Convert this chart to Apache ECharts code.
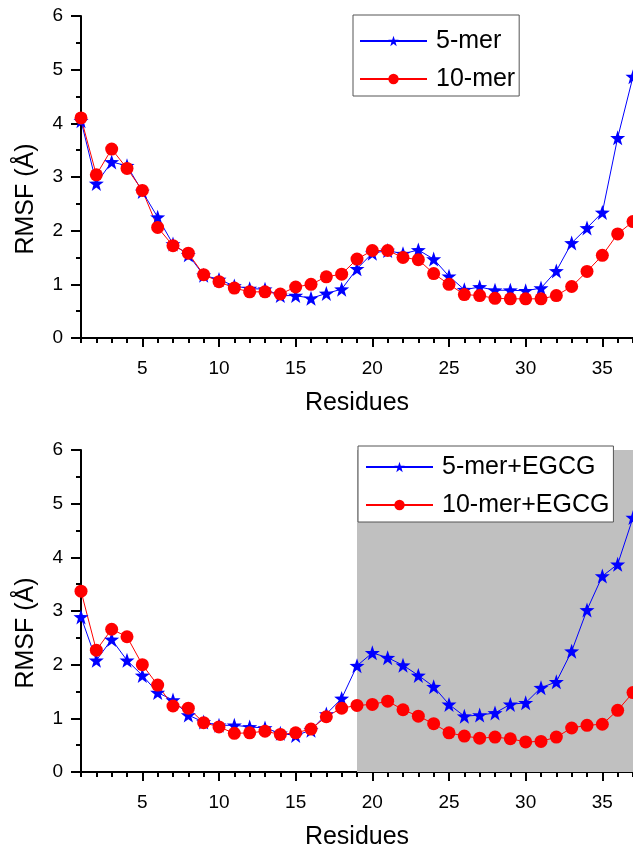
<!DOCTYPE html>
<html lang="en">

<head>
    <meta charset="UTF-8">
    <title>RMSF</title>
    <script src="https://cdn.jsdelivr.net/npm/echarts@6/dist/echarts.min.js"></script>
    <style>
        body { margin: 0; background: #fff; }
        .box { width: 633px; height: 848px; }
    </style>
</head>

<body>
    <div class="box"></div>
</body>
<script>
    // residue numbers (x)
    let residues = [1, 2, 3, 4, 5, 6, 7, 8, 9, 10, 11, 12, 13, 14, 15, 16, 17, 18, 19, 20,
        21, 22, 23, 24, 25, 26, 27, 28, 29, 30, 31, 32, 33, 34, 35, 36, 37]
    let xTickLabels = [5, 10, 15, 20, 25, 30, 35]

    // top panel
    let mer5 = [4.05, 2.88, 3.28, 3.21, 2.73, 2.25, 1.75, 1.55, 1.17, 1.09, 0.97, 0.92, 0.91, 0.79, 0.79, 0.74, 0.83, 0.91, 1.29, 1.58,
        1.63, 1.57, 1.64, 1.47, 1.15, 0.90, 0.95, 0.89, 0.89, 0.88, 0.93, 1.25, 1.77, 2.05, 2.34, 3.73, 4.87]
    let mer10 = [4.10, 3.04, 3.52, 3.16, 2.75, 2.06, 1.72, 1.58, 1.18, 1.05, 0.93, 0.86, 0.86, 0.82, 0.95, 1.00, 1.14, 1.19, 1.47, 1.63,
        1.63, 1.50, 1.46, 1.20, 1.00, 0.81, 0.79, 0.74, 0.73, 0.73, 0.73, 0.79, 0.96, 1.24, 1.54, 1.94, 2.17]

    // bottom panel (with EGCG)
    let mer5Egcg = [2.89, 2.08, 2.47, 2.08, 1.80, 1.48, 1.34, 1.06, 0.93, 0.87, 0.87, 0.84, 0.82, 0.72, 0.68, 0.78, 1.08, 1.37, 1.98, 2.22,
        2.13, 1.99, 1.80, 1.59, 1.26, 1.04, 1.06, 1.10, 1.26, 1.29, 1.57, 1.68, 2.25, 3.02, 3.65, 3.87, 4.74]
    let mer10Egcg = [3.37, 2.27, 2.66, 2.52, 2.00, 1.62, 1.23, 1.19, 0.92, 0.84, 0.72, 0.73, 0.76, 0.70, 0.73, 0.80, 1.03, 1.19, 1.24, 1.26,
        1.32, 1.16, 1.04, 0.90, 0.73, 0.67, 0.63, 0.65, 0.62, 0.56, 0.57, 0.65, 0.82, 0.87, 0.89, 1.15, 1.48]

    // shaded residue range in the bottom panel
    let shadeRange = [19, 37]

    let font = 'Liberation Sans, Arial, sans-serif'

    function pairs(vals) {
        return residues.map((r, i) => [r, vals[i]])
    }

    // main x axis: labels + long ticks at 5,10,...
    function mainX(grid) {
        return {
            type: 'value', gridIndex: grid, min: 1, max: 37, position: 'bottom',
            name: 'Residues', nameLocation: 'middle', nameGap: 53,
            nameTextStyle: { fontSize: 25, color: '#000', fontFamily: font },
            axisLine: { onZero: false, lineStyle: { color: '#000', width: 2 } },
            axisTick: { customValues: xTickLabels, length: 9, lineStyle: { color: '#000', width: 2 } },
            axisLabel: { customValues: xTickLabels, margin: 21, fontSize: 19, color: '#000', fontFamily: font },
            splitLine: { show: false }
        }
    }

    // second x axis only for the short ticks at every residue
    function minorX(grid) {
        return {
            type: 'value', gridIndex: grid, min: 1, max: 37, interval: 1, position: 'bottom',
            axisLine: { show: false, onZero: false },
            axisTick: { length: 5, lineStyle: { color: '#000', width: 2 } },
            axisLabel: { show: false },
            splitLine: { show: false }
        }
    }

    function yAx(grid) {
        return {
            type: 'value', gridIndex: grid, min: 0, max: 6, interval: 1,
            name: 'RMSF (Å)', nameLocation: 'middle', nameGap: 42,
            nameTextStyle: { fontSize: 25, color: '#000', fontFamily: font, padding: [0, 44, 0, 0] },
            axisLine: { lineStyle: { color: '#000', width: 2 } },
            axisTick: { length: 10, lineStyle: { color: '#000', width: 2 } },
            minorTick: { show: true, splitNumber: 2, length: 5, lineStyle: { color: '#000', width: 2 } },
            axisLabel: { margin: 18, fontSize: 19, color: '#000', fontFamily: font },
            splitLine: { show: false }
        }
    }

    function legendBox(grid, names, left, top, padding) {
        return {
            data: names, orient: 'vertical', left: left, top: top,
            padding: padding, itemGap: 10, itemWidth: 67, itemHeight: 13,
            backgroundColor: '#fff', borderColor: '#555', borderWidth: 1,
            textStyle: { fontSize: 25, lineHeight: 28, color: '#000', fontFamily: font, padding: [0, 0, 0, 4] }
        }
    }

    function blue(name, vals, xi, yi) {
        return {
            name: name, type: 'line', xAxisIndex: xi, yAxisIndex: yi, data: pairs(vals),
            symbol: 'path://M0,-10 L2.35,-3.24 L9.51,-3.09 L3.8,1.24 L5.88,8.09 L0,4 L-5.88,8.09 L-3.8,1.24 L-9.51,-3.09 L-2.35,-3.24 Z',
            symbolSize: 15, color: '#0000ff', lineStyle: { width: 1 }, clip: false
        }
    }

    function red(name, vals, xi, yi) {
        return {
            name: name, type: 'line', xAxisIndex: xi, yAxisIndex: yi, data: pairs(vals),
            symbol: 'circle', symbolSize: 13, color: '#ff0000', lineStyle: { width: 1 }, clip: false
        }
    }

    let mCharts = echarts.init(document.querySelector('.box'))

    let bottomBlue = blue('5-mer+EGCG', mer5Egcg, 2, 1)
    bottomBlue.markArea = {
        silent: true,
        itemStyle: { color: '#c0c0c0' },
        data: [[{ xAxis: shadeRange[0] }, { xAxis: shadeRange[1] }]]
    }

    let option = {
        animation: false,
        grid: [
            { left: 81, right: 0, top: 16, height: 322, outerBoundsMode: 'none' },
            { left: 81, right: 0, top: 450, height: 322, outerBoundsMode: 'none' }
        ],
        xAxis: [mainX(0), minorX(0), mainX(1), minorX(1)],
        yAxis: [yAx(0), yAx(1)],
        legend: [
            legendBox(0, ['5-mer', '10-mer'], 353, 15, [12, 4, 3, 6]),
            legendBox(1, ['5-mer+EGCG', '10-mer+EGCG'], 358, 446, [7, 4, 3, 7])
        ],
        series: [
            blue('5-mer', mer5, 0, 0),
            red('10-mer', mer10, 0, 0),
            bottomBlue,
            red('10-mer+EGCG', mer10Egcg, 2, 1)
        ]
    }
    mCharts.setOption(option)
</script>

</html>
